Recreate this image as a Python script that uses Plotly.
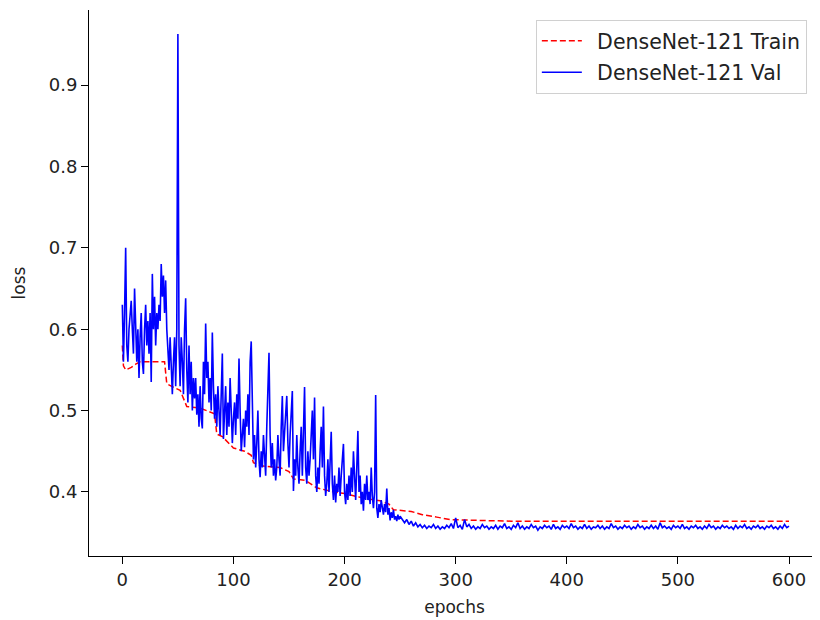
import plotly.graph_objects as go

# ---- data ----
train_epochs = [0, 1, 3, 8, 12, 16, 38, 39, 40, 47, 52, 55, 58, 70, 75, 83, 85, 90, 100, 110,
                116, 118, 125, 142, 150, 154, 165, 175, 187, 200, 215, 232, 240, 244, 260, 270,
                283, 295, 320, 350, 600]
train_loss = [0.580, 0.555, 0.550, 0.553, 0.557, 0.560, 0.560, 0.545, 0.533, 0.528, 0.525, 0.515,
              0.505, 0.503, 0.500, 0.496, 0.471, 0.468, 0.454, 0.450, 0.445, 0.436, 0.432, 0.430,
              0.425, 0.416, 0.414, 0.405, 0.401, 0.398, 0.393, 0.389, 0.385, 0.378, 0.376, 0.372,
              0.369, 0.366, 0.365, 0.364, 0.364]

val_epochs_early = list(range(0, 251))
val_loss_early = [
    0.630, 0.560, 0.620, 0.700, 0.580, 0.560, 0.600, 0.620, 0.635, 0.600,
    0.570, 0.650, 0.610, 0.560, 0.600, 0.540, 0.590, 0.620, 0.560, 0.545,
    0.600, 0.630, 0.580, 0.610, 0.570, 0.620, 0.535, 0.668, 0.600, 0.640,
    0.580, 0.620, 0.600, 0.630, 0.610, 0.680, 0.640, 0.666, 0.620, 0.660,
    0.600, 0.570, 0.550, 0.590, 0.540, 0.520, 0.560, 0.590, 0.530, 0.600,
    0.963, 0.580, 0.530, 0.590, 0.560, 0.520, 0.600, 0.638, 0.550, 0.510,
    0.580, 0.520, 0.560, 0.500, 0.540, 0.515, 0.540, 0.495, 0.520, 0.480,
    0.530, 0.490, 0.478, 0.560, 0.520, 0.607, 0.540, 0.560, 0.510, 0.540,
    0.500, 0.596, 0.530, 0.490, 0.520, 0.480, 0.530, 0.500, 0.470, 0.520,
    0.570, 0.465, 0.500, 0.530, 0.470, 0.510, 0.480, 0.540, 0.500, 0.460,
    0.490, 0.510, 0.470, 0.520, 0.490, 0.564, 0.500, 0.450, 0.470, 0.490,
    0.455, 0.500, 0.480, 0.520, 0.470, 0.560, 0.585, 0.480, 0.440, 0.470,
    0.430, 0.460, 0.500, 0.440, 0.418, 0.450, 0.430, 0.470, 0.440, 0.420,
    0.480, 0.520, 0.571, 0.470, 0.430, 0.460, 0.420, 0.440, 0.414, 0.430,
    0.470, 0.440, 0.420, 0.480, 0.518, 0.450, 0.470, 0.490, 0.518, 0.460,
    0.430, 0.470, 0.500, 0.524, 0.401, 0.440, 0.420, 0.470, 0.430, 0.410,
    0.450, 0.480, 0.420, 0.500, 0.529, 0.430, 0.410, 0.450, 0.420, 0.440,
    0.470, 0.500, 0.440, 0.516, 0.420, 0.400, 0.430, 0.410, 0.450, 0.480,
    0.430, 0.505, 0.420, 0.395, 0.410, 0.440, 0.400, 0.430, 0.474, 0.410,
    0.390, 0.420, 0.387, 0.410, 0.400, 0.430, 0.395, 0.420, 0.440, 0.459,
    0.400, 0.385, 0.410, 0.390, 0.420, 0.395, 0.430, 0.400, 0.450, 0.410,
    0.390, 0.430, 0.475, 0.400, 0.420, 0.385, 0.400, 0.377, 0.410, 0.390,
    0.420, 0.390, 0.400, 0.385, 0.430, 0.395, 0.380, 0.400, 0.519, 0.380,
    0.368, 0.385, 0.375, 0.390, 0.380, 0.372, 0.385, 0.375, 0.404, 0.372,
    0.380, 0.365, 0.375, 0.368, 0.378, 0.366, 0.370, 0.364, 0.372, 0.366,
    0.370,
]

val_epochs_late = list(range(252, 601, 2))
val_loss_late = [
    0.366, 0.362, 0.366, 0.360, 0.364, 0.358, 0.362, 0.357, 0.360, 0.356,
    0.359, 0.355, 0.358, 0.356, 0.360, 0.355, 0.358, 0.354, 0.357, 0.355,
    0.359, 0.356, 0.361, 0.355, 0.368, 0.356, 0.359, 0.354, 0.366, 0.357,
    0.360, 0.355, 0.358, 0.354, 0.357, 0.355, 0.360, 0.356, 0.358, 0.354,
    0.357, 0.355, 0.359, 0.354, 0.358, 0.356, 0.361, 0.355, 0.357, 0.354,
    0.359, 0.356, 0.362, 0.355, 0.358, 0.354, 0.357, 0.355, 0.360, 0.356,
    0.358, 0.353, 0.357, 0.355, 0.359, 0.356, 0.358, 0.354, 0.360, 0.355,
    0.357, 0.354, 0.359, 0.356, 0.358, 0.355, 0.361, 0.356, 0.358, 0.354,
    0.357, 0.355, 0.360, 0.355, 0.358, 0.354, 0.357, 0.356, 0.359, 0.355,
    0.358, 0.354, 0.357, 0.355, 0.361, 0.356, 0.358, 0.354, 0.357, 0.355,
    0.359, 0.356, 0.358, 0.354, 0.357, 0.355, 0.360, 0.356, 0.358, 0.354,
    0.357, 0.355, 0.359, 0.355, 0.358, 0.354, 0.362, 0.356, 0.358, 0.355,
    0.357, 0.354, 0.359, 0.356, 0.358, 0.355, 0.360, 0.355, 0.357, 0.354,
    0.358, 0.356, 0.359, 0.355, 0.357, 0.354, 0.358, 0.355, 0.360, 0.356,
    0.358, 0.354, 0.357, 0.355, 0.359, 0.356, 0.358, 0.355, 0.357, 0.354,
    0.359, 0.355, 0.358, 0.356, 0.360, 0.355, 0.357, 0.354, 0.358, 0.356,
    0.359, 0.355, 0.357, 0.354, 0.358, 0.356, 0.359, 0.355, 0.357, 0.354,
    0.358, 0.355, 0.360, 0.356, 0.358,
]

val_epochs = val_epochs_early + val_epochs_late
val_loss = val_loss_early + val_loss_late[:len(val_epochs_late)]

series_names = ["DenseNet-121 Train", "DenseNet-121 Val"]
x_ticks = [0, 100, 200, 300, 400, 500, 600]
y_ticks = [0.4, 0.5, 0.6, 0.7, 0.8, 0.9]

FONT = "DejaVu Sans"
TXT = "#222222"
LEAD = "\u2002"  # small gap between legend line sample and label

fig = go.Figure()
fig.add_trace(go.Scatter(
    x=train_epochs, y=train_loss, mode="lines", name=LEAD + series_names[0],
    legendgroup="train",
    line=dict(color="#ff0000", width=1.5, dash="6px,3px"),
))
fig.add_trace(go.Scatter(
    x=val_epochs, y=val_loss, mode="lines", name=LEAD + series_names[1],
    legendgroup="val",
    line=dict(color="#0000ff", width=1.6),
))

axis_common = dict(
    showgrid=False, zeroline=False, showline=True, linecolor="#000000", linewidth=1,
    ticks="outside", ticklen=7, tickwidth=1, tickcolor="#000000",
    tickfont=dict(family=FONT, size=18, color=TXT),
    title_font=dict(family=FONT, size=17, color=TXT),
)

# page body has an 8px margin: plot area spans page x 89..820, y 10..556
fig.update_layout(
    width=820, height=620,
    margin=dict(l=81, r=8, t=2, b=72),
    paper_bgcolor="#ffffff", plot_bgcolor="#ffffff",
    showlegend=True,
    legend=dict(
        x=0.982, y=0.982, xanchor="right", yanchor="top",
        bgcolor="rgba(255,255,255,0.8)", bordercolor="#d0d0d0", borderwidth=1,
        font=dict(family=FONT, size=20.5, color=TXT),
        itemwidth=40, traceorder="grouped", tracegroupgap=2,
    ),
    xaxis=dict(range=[-30, 627.9], tickvals=x_ticks, title=dict(text="epochs", standoff=12),
               **axis_common),
    yaxis=dict(range=[0.3212, 0.9924], tickvals=y_ticks, ticktext=[f"{v:.1f}" for v in y_ticks],
               title=dict(text="loss", standoff=18), **axis_common),
)

fig.write_html("out.html")
